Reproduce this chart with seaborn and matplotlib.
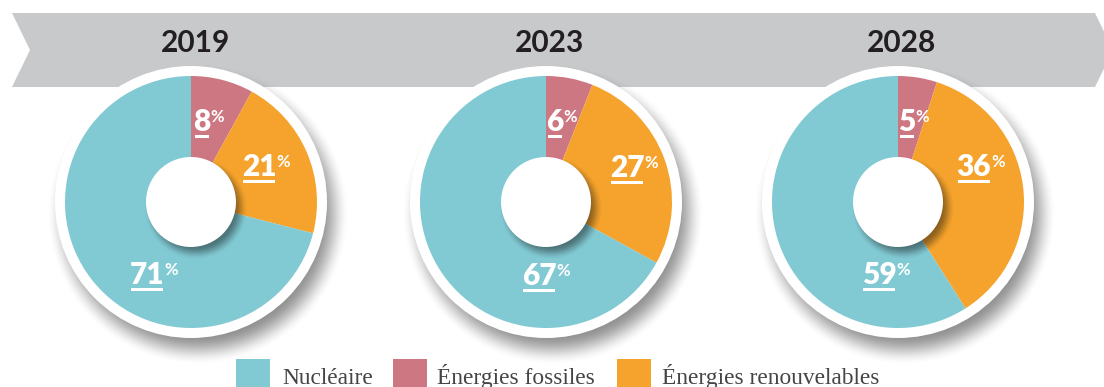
import numpy as np
import matplotlib
matplotlib.use("Agg")
import matplotlib.pyplot as plt
from matplotlib.patches import Circle, Polygon, Rectangle
import seaborn as sns

# ---- data -------------------------------------------------------------
years = ["2019", "2023", "2028"]
categories = ["Nucléaire", "Énergies fossiles", "Énergies renouvelables"]
nucleaire = [71, 67, 59]
fossiles = [8, 6, 5]
renouvelables = [21, 27, 36]

# ---- layout (pixels, measured from the top-left corner) ----------------
W, H = 1104, 387
centers_x = [191, 546, 898]
center_y = 202
R_RING, R_PIE, R_HOLE = 136, 126, 45
# label centres relative to each donut centre: fossiles, renouvelables, nucléaire
label_offsets = [
    [(11, -82), (68, -37), (-44, 71)],
    [(9, -82), (81, -36), (-7, 72)],
    [(9, -82), (76, -37), (-19, 71)],
]

sns.set_theme(style="white")
plt.rcParams["font.family"] = ["Lato", "DejaVu Sans"]

palette = sns.color_palette(["#81C9D3", "#CD7782", "#F5A32C"])
colors = dict(zip(categories, palette))


def py(y):
    """Convert a row measured from the top into data y."""
    return H - y


fig = plt.figure(figsize=(W / 100, H / 100), dpi=100)
ax = fig.add_axes([0, 0, 1, 1])
ax.set_axis_off()

# ---- grey timeline banner --------------------------------------------
banner = Polygon(
    [(12, py(13)), (1095, py(13)), (1113, py(50)), (1095, py(87)),
     (12, py(87)), (30, py(50))],
    closed=True, fc="#C8C9CB", ec="none", zorder=1)
ax.add_patch(banner)

# ---- soft drop shadows ----------------------------------------------
yy, xx = np.mgrid[0:H, 0:W] + 0.5


def soft_disc(cx, cy, r, blur):
    d = np.hypot(xx - cx, yy - cy)
    t = np.clip((r + blur - d) / (2 * blur), 0, 1)
    return t * t * (3 - 2 * t)


outer = np.zeros((H, W))
inner = np.zeros((H, W))
for cx in centers_x:
    outer = np.maximum(outer, soft_disc(cx + 7, center_y + 12, R_RING, 15))
    inner = np.maximum(inner, soft_disc(cx + 5, center_y + 6, R_HOLE, 7))


def shade(alpha, grey, a0, zorder):
    img = np.zeros((H, W, 4))
    img[..., :3] = grey
    img[..., 3] = alpha * a0
    ax.imshow(img, extent=(0, W, 0, H), origin="upper", zorder=zorder,
              interpolation="bilinear")


shade(outer, 0.22, 0.55, 2)
shade(inner, 0.05, 0.45, 5)

# ---- donuts -----------------------------------------------------------
order = ["Énergies fossiles", "Énergies renouvelables", "Nucléaire"]
for i, cx in enumerate(centers_x):
    c = (cx, py(center_y))
    ax.add_patch(Circle(c, R_RING, fc="white", ec="none", zorder=3))
    vals = [fossiles[i], renouvelables[i], nucleaire[i]]
    wedges, _ = ax.pie(vals, colors=[colors[k] for k in order], startangle=90,
                       counterclock=False, center=c, radius=R_PIE,
                       wedgeprops=dict(linewidth=0))
    for w in wedges:
        w.set_zorder(4)
    ax.add_patch(Circle(c, R_HOLE, fc="white", ec="none", zorder=6))

    ax.text(cx + 4, py(52), years[i], ha="center", va="baseline",
            fontsize=21.5, fontweight="bold", color="#231F20", zorder=7)

ax.set_xlim(0, W)
ax.set_ylim(0, H)
ax.set_aspect("equal")

# ---- percentage labels (underlined number + raised %) -----------------
NUM_PT = 21.5
digit_h = 0.7165 * NUM_PT * 100 / 72
fig.canvas.draw()
renderer = fig.canvas.get_renderer()
inv = ax.transData.inverted()
for i, cx in enumerate(centers_x):
    vals = [fossiles[i], renouvelables[i], nucleaire[i]]
    for v, (dx, dy) in zip(vals, label_offsets[i]):
        base = center_y + dy + digit_h / 2
        t = ax.text(cx + dx, py(base), f"{v}", ha="center", va="baseline",
                    fontsize=NUM_PT, fontweight="heavy", color="white", zorder=8)
        bb = t.get_window_extent(renderer).transformed(inv)
        ax.add_patch(Rectangle((bb.x0 + 1.5, py(base + 7)), bb.width - 3, 2.4,
                               fc="white", ec="none", zorder=8))
        ax.text(bb.x1, py(base - digit_h - 0.5), "%", ha="left", va="top",
                fontsize=12, fontweight="bold", color="white", zorder=8)

# ---- legend -----------------------------------------------------------
sq_x = [236, 393, 617]
txt_x = [282, 437, 662]
for k, name in enumerate(categories):
    ax.add_patch(Rectangle((sq_x[k], py(359) - 40), 34, 40, fc=colors[name],
                           ec="none", zorder=8))
    ax.text(txt_x[k], py(384), name, ha="left", va="baseline", fontsize=16.8,
            family=["Liberation Serif", "DejaVu Serif"], color="#454545",
            zorder=8)

fig.savefig("out.png", dpi=100)
